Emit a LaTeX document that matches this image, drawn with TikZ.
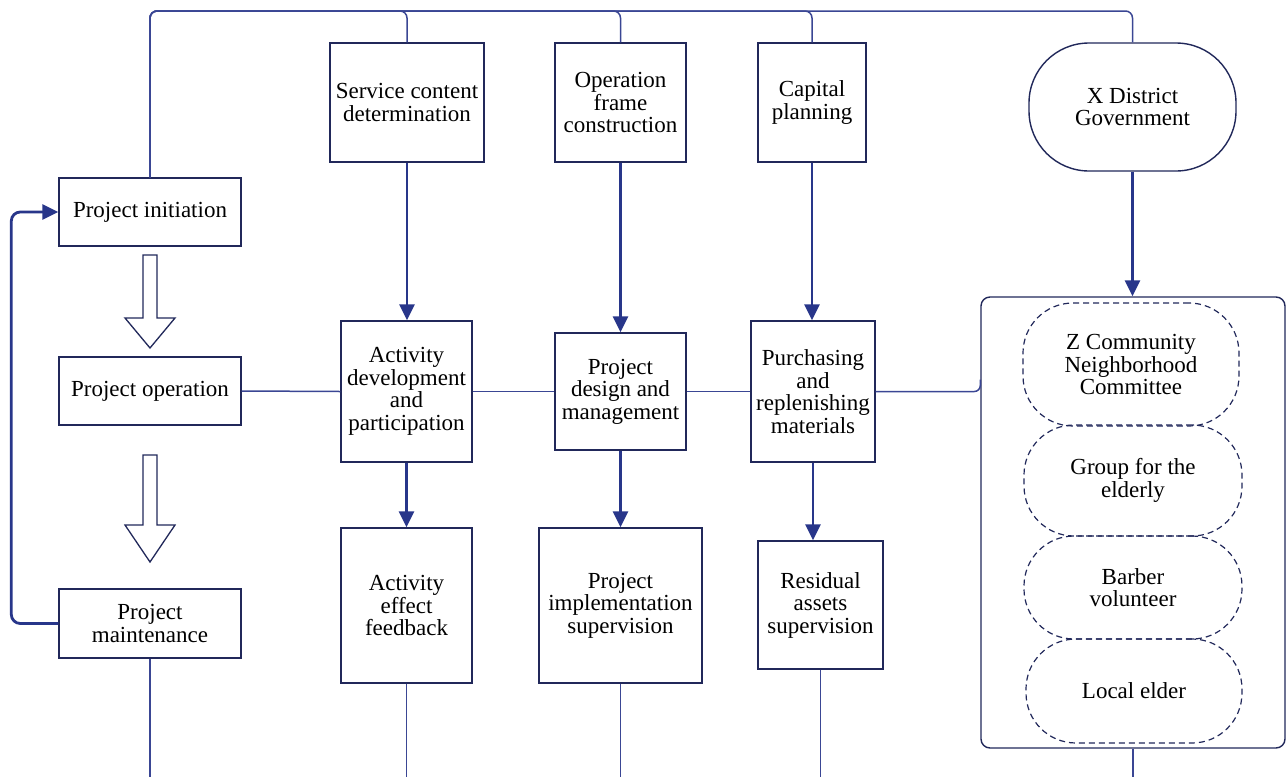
\documentclass[tikz,border=0pt]{standalone}
\usepackage{fontspec}
\setmainfont{Liberation Serif}
\usetikzlibrary{arrows.meta,calc}
\definecolor{navy}{RGB}{40,54,138}
\definecolor{boxline}{RGB}{33,40,90}
\definecolor{thinline}{RGB}{58,70,148}
\newcommand\diagfont{\fontsize{23}{22.5}\selectfont}
\begin{document}
\begin{tikzpicture}[x=1pt,y=-1pt,
  box/.style={draw=boxline, line width=1.4pt, fill=white, align=center,
              inner sep=0pt, font=\diagfont},
  member/.style={draw=boxline, line width=1.2pt, dash pattern=on 6pt off 4pt,
                 rounded corners=50pt, align=center, inner sep=0pt, font=\diagfont,
                 minimum width=216pt},
  conn/.style={draw=thinline, line width=1.5pt},
  flow/.style={draw=navy, line width=2.8pt, -{Triangle[width=15pt,length=16pt]}},
  hollow/.style={draw=boxline, line width=1.3pt, fill=white, line join=miter}]
\useasboundingbox (0,0) rectangle (1286,777);
\coordinate (bot) at (0,777);
\coordinate (top) at (0,11);

% left column: project phases
\node[box, minimum width=182pt, minimum height=68pt] (init) at (150,212) {Project initiation};
\node[box, minimum width=182pt, minimum height=68pt] (oper) at (150,391) {Project operation};
\node[box, minimum width=182pt, minimum height=69pt] (maint) at (150,623.5) {Project\\maintenance};

% top row
\node[box, minimum width=154pt, minimum height=119pt] (svc) at (407,102.5) {Service content\\determination};
\node[box, minimum width=131pt, minimum height=119pt] (frame) at (620.5,102.5) {Operation\\frame\\construction};
\node[box, minimum width=108pt, minimum height=119pt] (cap) at (812,102.5) {Capital\\planning};
\node[box, rounded corners=60pt, minimum width=207pt, minimum height=128pt] (gov) at (1132.5,107) {X District\\Government};

% middle row
\node[box, minimum width=131pt, minimum height=141pt] (act) at (406.5,391.5) {Activity\\development\\and\\participation};
\node[box, minimum width=131pt, minimum height=117pt] (design) at (620.5,391.5) {Project\\design and\\management};
\node[box, minimum width=124pt, minimum height=141pt] (pur) at (813,391.5) {Purchasing\\and\\replenishing\\materials};

% bottom row
\node[box, minimum width=131pt, minimum height=155pt] (feed) at (406.5,605.5) {Activity\\effect\\feedback};
\node[box, minimum width=163pt, minimum height=155pt] (impl) at (620.5,605.5) {Project\\implementation\\supervision};
\node[box, minimum width=125pt, minimum height=128pt] (res) at (820.5,605) {Residual\\assets\\supervision};

% participants group
\node[draw=boxline, line width=1.4pt, rounded corners=9pt, minimum width=304pt,
      minimum height=451pt, inner sep=0pt] (grp) at (1133,522.5) {};
\node[member, minimum height=123pt] (zc) at (1131,364.5) {Z Community\\Neighborhood\\Committee};
\node[member, minimum width=218pt, minimum height=111pt] (eld) at (1133,480.5) {Group for the\\elderly};
\node[member, minimum width=218pt, minimum height=103pt] (bar) at (1133,587.5) {Barber\\volunteer};
\node[member, minimum height=104pt] (loc) at (1134,691) {Local elder};

% top bus
\foreach \t in {svc,frame,cap,gov}
  \draw[conn, rounded corners=7pt] (init.north) -- (init.north |- top) -| (\t.north);

% horizontal link through the middle row
\draw[conn] (oper.east) -- (act.west);
\draw[conn] (act.east) -- (design.west);
\draw[conn] (design.east) -- (pur.west);
\draw[conn, rounded corners=6pt] (pur.east) -- (pur.east -| grp.west) -- ++(0,-12);

% flow arrows
\draw[flow] (svc.south) -- (svc.south |- act.north);
\draw[flow] (frame.south) -- (frame.south |- design.north);
\draw[flow] (cap.south) -- (cap.south |- pur.north);
\draw[flow] (gov.south) -- (gov.south |- grp.north);
\draw[flow] (act.south) -- (act.south |- feed.north);
\draw[flow] (design.south) -- (design.south |- impl.north);
\draw[flow] (pur.south) -- (pur.south |- res.north);
\draw[flow, rounded corners=9pt] (maint.west) -- ++(-47,0) |- (init.west);

% hollow phase arrows
\draw[hollow] (143,255) -- (157,255) -- (157,318) -- (175,318) -- (150,348)
  -- (125,318) -- (143,318) -- cycle;
\draw[hollow] (143,455) -- (157,455) -- (157,525) -- (175,525) -- (150,562)
  -- (125,525) -- (143,525) -- cycle;

% lines leaving the bottom
\draw[conn] (maint.south) -- (maint.south |- bot);
\draw[conn] (feed.south) -- (feed.south |- bot);
\draw[conn] (impl.south) -- (impl.south |- bot);
\draw[conn] (res.south) -- (res.south |- bot);
\draw[conn] (grp.south) -- (grp.south |- bot);
\end{tikzpicture}
\end{document}
